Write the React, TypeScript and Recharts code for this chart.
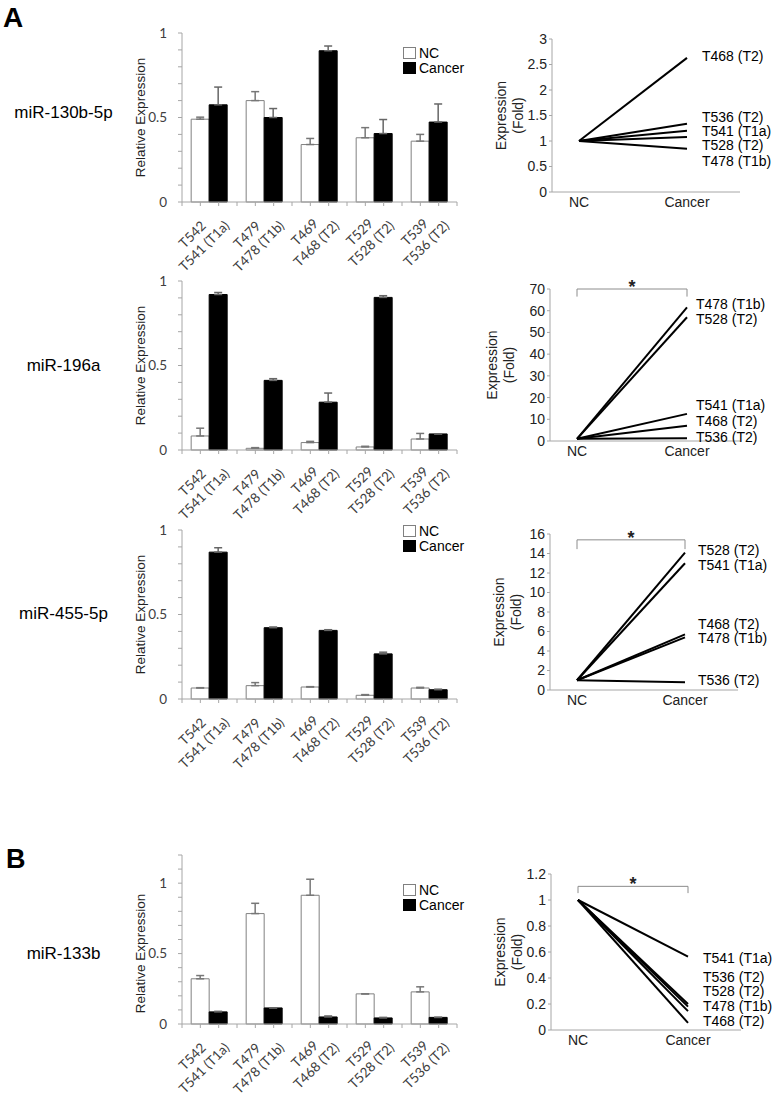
import React from "react";
import {
  BarChart,
  Bar,
  ErrorBar,
  XAxis,
  YAxis,
  Legend,
  Label,
  LineChart,
  Line,
  ReferenceLine,
  ReferenceDot,
} from "recharts";

const ARIAL = "'Liberation Sans', Arial, sans-serif";
const CALIBRI = "Lato, 'Open Sans', sans-serif";
const AXIS = "#a6a6a6";

const ncSamples = ["T542", "T479", "T469", "T529", "T539"];
const cancerSamples = ["T541 (T1a)", "T478 (T1b)", "T468 (T2)", "T528 (T2)", "T536 (T2)"];
const miRNAs = ["miR-130b-5p", "miR-196a", "miR-455-5p", "miR-133b"];
const legendOrder = ["NC", "Cancer"];

// relative expression (bars), error drawn upward only
const nc130 = [0.49, 0.6, 0.34, 0.38, 0.36];
const nc130Err = [0.012, 0.053, 0.036, 0.06, 0.04];
const ca130 = [0.575, 0.5, 0.895, 0.405, 0.473];
const ca130Err = [0.105, 0.053, 0.028, 0.083, 0.107];

const nc196 = [0.083, 0.01, 0.044, 0.018, 0.065];
const nc196Err = [0.046, 0.004, 0.007, 0.004, 0.033];
const ca196 = [0.92, 0.412, 0.283, 0.903, 0.095];
const ca196Err = [0.012, 0.01, 0.054, 0.01, 0];

const nc455 = [0.065, 0.079, 0.071, 0.022, 0.065];
const nc455Err = [0.002, 0.018, 0.002, 0.004, 0.004];
const ca455 = [0.869, 0.422, 0.406, 0.267, 0.055];
const ca455Err = [0.026, 0.004, 0.004, 0.01, 0.003];

const nc133 = [0.321, 0.784, 0.914, 0.214, 0.228];
const nc133Err = [0.023, 0.073, 0.114, 0, 0.036];
const ca133 = [0.086, 0.114, 0.05, 0.043, 0.047];
const ca133Err = [0.004, 0, 0.007, 0.004, 0];

const relTicks = [0, 0.1, 0.2, 0.3, 0.4, 0.5, 0.6, 0.7, 0.8, 0.9, 1];
const relTicksB = [0, 0.1, 0.2, 0.3, 0.4, 0.5, 0.6, 0.7, 0.8, 0.9, 1, 1.1, 1.2];

// fold change NC -> Cancer (lines)
const fold130Names = ["T468 (T2)", "T536 (T2)", "T541 (T1a)", "T528 (T2)", "T478 (T1b)"];
const fold130Nc = [1, 1, 1, 1, 1];
const fold130Ca = [2.63, 1.34, 1.2, 1.08, 0.85];
const fold130LabelY = [2.66, 1.48, 1.2, 0.915, 0.61];
const fold130Ticks = [0, 0.5, 1, 1.5, 2, 2.5, 3];

const fold196Names = ["T478 (T1b)", "T528 (T2)", "T541 (T1a)", "T468 (T2)", "T536 (T2)"];
const fold196Nc = [1, 1, 1, 1, 1];
const fold196Ca = [61.5, 57, 12.5, 7, 1.3];
const fold196LabelY = [62.9, 56.2, 16.6, 9.2, 2.0];
const fold196Ticks = [0, 10, 20, 30, 40, 50, 60, 70];

const fold455Names = ["T528 (T2)", "T541 (T1a)", "T468 (T2)", "T478 (T1b)", "T536 (T2)"];
const fold455Nc = [1, 1, 1, 1, 1];
const fold455Ca = [14.1, 13, 5.7, 5.4, 0.8];
const fold455LabelY = [14.35, 12.85, 6.8, 5.35, 1.0];
const fold455Ticks = [0, 2, 4, 6, 8, 10, 12, 14, 16];

const fold133Names = ["T541 (T1a)", "T536 (T2)", "T528 (T2)", "T478 (T1b)", "T468 (T2)"];
const fold133Nc = [1, 1, 1, 1, 1];
const fold133Ca = [0.565, 0.2, 0.18, 0.145, 0.055];
const fold133LabelY = [0.557, 0.411, 0.3, 0.188, 0.072];
const fold133Ticks = [0, 0.2, 0.4, 0.6, 0.8, 1, 1.2];

const barRows = (nc: number[], ncErr: number[], ca: number[], caErr: number[]) =>
  ncSamples.map((s, i) => ({
    name: s,
    nc: nc[i],
    ncErr: [0, ncErr[i]],
    ca: ca[i],
    caErr: [0, caErr[i]],
  }));

const foldRows = (nc: number[], ca: number[]) => [
  { g: "NC", ...Object.fromEntries(nc.map((v, i) => [`s${i}`, v])) },
  { g: "Cancer", ...Object.fromEntries(ca.map((v, i) => [`s${i}`, v])) },
];

let measureCtx: CanvasRenderingContext2D | null = null;
function textWidth(s: string) {
  if (!measureCtx) measureCtx = document.createElement("canvas").getContext("2d");
  if (!measureCtx) return s.length * 6.5;
  measureCtx.font = `13.5px Lato`;
  return measureCtx.measureText(s).width;
}

function GroupTick(props: any) {
  const { x, y, index, payload, width, visibleTicksCount } = props;
  const band = width && visibleTicksCount ? width / visibleTicksCount : 55;
  const marks = [-band / 2, -band / 6, band / 6];
  if (index === visibleTicksCount - 1) marks.push(band / 2);
  const second = cancerSamples[index];
  const w = textWidth(second);
  return (
    <g>
      {marks.map((m) => (
        <line key={m} x1={x + m} x2={x + m} y1={y} y2={y + 4} stroke={AXIS} />
      ))}
      <g
        transform={`translate(${x + 9},${y + 13}) rotate(-45)`}
        fontFamily={CALIBRI}
        fontSize={13.5}
        fill="#404040"
        textAnchor="middle"
      >
        <text x={-w / 2} y={0}>{payload.value}</text>
        <text x={-w / 2} y={16.5}>{second}</text>
      </g>
    </g>
  );
}

function LegendBox({ payload }: any) {
  const items = [...(payload || [])].sort(
    (a: any, b: any) => legendOrder.indexOf(a.value) - legendOrder.indexOf(b.value)
  );
  return (
    <div style={{ fontFamily: ARIAL, fontSize: 14, color: "#000" }}>
      {items.map((e: any) => (
        <div key={e.value} style={{ display: "flex", alignItems: "center", height: 15 }}>
          <span
            style={{
              display: "inline-block",
              width: 11,
              height: 10,
              background: e.color,
              border: `1px solid ${e.payload?.stroke ?? "#777"}`,
              marginRight: 3,
            }}
          />
          {e.value}
        </div>
      ))}
    </div>
  );
}

function RelPanel({ top, data, yMax, ticks, legendTop, labelDy = 0 }: any) {
  const plotH = 169;
  const relLabel = ({ viewBox }: any) => {
    const cx = viewBox.x + viewBox.width - 42;
    const cy = viewBox.y + viewBox.height / 2 + labelDy;
    return (
      <text
        x={cx}
        y={cy}
        transform={`rotate(-90 ${cx} ${cy})`}
        textAnchor="middle"
        dominantBaseline="central"
        fontFamily={ARIAL}
        fontSize={13.5}
        fill="#222"
      >
        Relative Expression
      </text>
    );
  };
  return (
    <div style={{ position: "absolute", left: 0, top }}>
      <BarChart
        width={470}
        height={10 + plotH + 70 + 8}
        data={data}
        margin={{ top: 10, right: 13, bottom: 8, left: 122 }}
        barCategoryGap="16.67%"
        barGap={0}
      >
        <XAxis
          dataKey="name"
          interval={0}
          tickLine={false}
          tickSize={0}
          tickMargin={0}
          height={70}
          axisLine={{ stroke: AXIS }}
          tick={(p: any) => <GroupTick {...p} />}
        />
        <YAxis
          width={60}
          domain={[0, yMax]}
          ticks={ticks}
          interval={0}
          tickSize={4}
          tickMargin={11}
          tickFormatter={(v: number) => (v === 0 || v === 0.5 || v === 1 ? String(v) : "")}
          axisLine={{ stroke: AXIS }}
          tickLine={{ stroke: AXIS }}
          tick={{ fontFamily: CALIBRI, fontSize: 13.5, fill: "#404040" }}
        >
          <Label content={relLabel} />
        </YAxis>
        {legendTop !== undefined && (
          <Legend
            layout="vertical"
            align="center"
            verticalAlign="middle"
            wrapperStyle={{ left: 403, top: legendTop, width: "auto" }}
            content={<LegendBox />}
          />
        )}
        <Bar dataKey="nc" name="NC" fill="#fff" stroke="#808080" isAnimationActive={false}>
          <ErrorBar dataKey="ncErr" width={4} stroke="#777" isAnimationActive={false} />
        </Bar>
        <Bar dataKey="ca" name="Cancer" fill="#000" stroke="#000" isAnimationActive={false}>
          <ErrorBar dataKey="caErr" width={4} stroke="#666" isAnimationActive={false} />
        </Bar>
      </BarChart>
    </div>
  );
}

function FoldPanel({
  plotTop,
  plotLeft,
  plotRight,
  plotH,
  names,
  nc,
  ca,
  labelY,
  ticks,
  labelGap,
  yLabelShift = 0,
  bracket,
}: any) {
  const data = foldRows(nc, ca);
  const foldLabel = ({ viewBox }: any) => {
    const ax = viewBox.x + viewBox.width + yLabelShift;
    const cy = viewBox.y + viewBox.height / 2;
    return (
      <g fontFamily={ARIAL} fontSize={14} fill="#222" textAnchor="middle">
        <text x={ax - 51} y={cy} transform={`rotate(-90 ${ax - 51} ${cy})`} dominantBaseline="central">
          Expression
        </text>
        <text x={ax - 34} y={cy} transform={`rotate(-90 ${ax - 34} ${cy})`} dominantBaseline="central">
          (Fold)
        </text>
      </g>
    );
  };
  return (
    <div style={{ position: "absolute", left: 440, top: plotTop - 15 }}>
      <LineChart
        width={335}
        height={15 + plotH + 30}
        data={data}
        margin={{ top: 15, right: 775 - plotRight, bottom: 0, left: plotLeft - 440 - 60 }}
      >
        <XAxis
          dataKey="g"
          padding={{ left: 27, right: 53 }}
          tickLine={false}
          tickSize={0}
          tickMargin={5}
          height={30}
          axisLine={{ stroke: AXIS }}
          tick={{ fontFamily: ARIAL, fontSize: 14, fill: "#222" }}
        />
        <YAxis
          width={60}
          domain={[0, ticks[ticks.length - 1]]}
          ticks={ticks}
          interval={0}
          tickSize={3}
          tickMargin={2}
          axisLine={{ stroke: AXIS }}
          tickLine={{ stroke: AXIS }}
          tick={{ fontFamily: ARIAL, fontSize: 14, fill: "#222" }}
        >
          <Label content={foldLabel} />
        </YAxis>
        {bracket && (
          <>
            <ReferenceLine
              segment={[{ x: "NC", y: bracket.top }, { x: "Cancer", y: bracket.top }]}
              stroke="#8c8c8c"
              ifOverflow="visible"
              label={({ viewBox }: any) => (
                <text
                  x={viewBox.x + viewBox.width / 2}
                  y={viewBox.y + 4}
                  textAnchor="middle"
                  fontFamily={ARIAL}
                  fontSize={18}
                  fontWeight="bold"
                  fill="#222"
                >
                  *
                </text>
              )}
            />
            <ReferenceLine
              segment={[{ x: "NC", y: bracket.top }, { x: "NC", y: bracket.drop }]}
              stroke="#8c8c8c"
              ifOverflow="visible"
            />
            <ReferenceLine
              segment={[{ x: "Cancer", y: bracket.top }, { x: "Cancer", y: bracket.drop }]}
              stroke="#8c8c8c"
              ifOverflow="visible"
            />
          </>
        )}
        {names.map((n: string, i: number) => (
          <Line
            key={n}
            dataKey={`s${i}`}
            name={n}
            stroke="#000"
            strokeWidth={2}
            dot={false}
            isAnimationActive={false}
          />
        ))}
        {names.map((n: string, i: number) => (
          <ReferenceDot
            key={`lab-${n}`}
            x="Cancer"
            y={labelY[i]}
            r={0}
            ifOverflow="visible"
            shape={(p: any) => (
              <text
                x={p.cx + labelGap}
                y={p.cy}
                dominantBaseline="central"
                fontFamily={ARIAL}
                fontSize={14}
                fill="#000"
              >
                {n}
              </text>
            )}
          />
        ))}
      </LineChart>
    </div>
  );
}

const rowLabelBaselines = [118, 371, 619, 959];

export default function App() {
  return (
    <div
      style={{
        position: "absolute",
        left: 0,
        top: 0,
        width: 775,
        height: 1095,
        background: "#fff",
        overflow: "hidden",
      }}
    >
      <svg width={775} height={1095} style={{ position: "absolute", left: 0, top: 0 }}>
        <text x={3} y={27} fontFamily={ARIAL} fontSize={28} fontWeight="bold">
          A
        </text>
        <text x={6} y={868} fontFamily={ARIAL} fontSize={27} fontWeight="bold">
          B
        </text>
        {miRNAs.map((m, i) => (
          <text key={m} x={63.5} y={rowLabelBaselines[i]} textAnchor="middle" fontFamily={ARIAL} fontSize={17}>
            {m}
          </text>
        ))}
      </svg>

      <RelPanel top={23} data={barRows(nc130, nc130Err, ca130, ca130Err)} yMax={1} ticks={relTicks} legendTop={22} />
      <RelPanel top={271} data={barRows(nc196, nc196Err, ca196, ca196Err)} yMax={1} ticks={relTicks} />
      <RelPanel top={520} data={barRows(nc455, nc455Err, ca455, ca455Err)} yMax={1} ticks={relTicks} legendTop={3} />
      <RelPanel
        top={845}
        data={barRows(nc133, nc133Err, ca133, ca133Err)}
        yMax={1.2}
        ticks={relTicksB}
        legendTop={37}
        labelDy={14}
      />

      <FoldPanel
        plotTop={39}
        plotLeft={552}
        plotRight={740}
        plotH={153}
        names={fold130Names}
        nc={fold130Nc}
        ca={fold130Ca}
        labelY={fold130LabelY}
        ticks={fold130Ticks}
        labelGap={15}
      />
      <FoldPanel
        plotTop={289}
        plotLeft={550}
        plotRight={740}
        plotH={152}
        names={fold196Names}
        nc={fold196Nc}
        ca={fold196Ca}
        labelY={fold196LabelY}
        ticks={fold196Ticks}
        labelGap={9}
        yLabelShift={-7}
        bracket={{ top: 70, drop: 66.5 }}
      />
      <FoldPanel
        plotTop={534}
        plotLeft={550}
        plotRight={738}
        plotH={156}
        names={fold455Names}
        nc={fold455Nc}
        ca={fold455Ca}
        labelY={fold455LabelY}
        ticks={fold455Ticks}
        labelGap={13}
        bracket={{ top: 15.4, drop: 14.45 }}
      />
      <FoldPanel
        plotTop={874}
        plotLeft={551}
        plotRight={741}
        plotH={156}
        names={fold133Names}
        nc={fold133Nc}
        ca={fold133Ca}
        labelY={fold133LabelY}
        ticks={fold133Ticks}
        labelGap={15}
        bracket={{ top: 1.105, drop: 1.053 }}
      />
    </div>
  );
}
